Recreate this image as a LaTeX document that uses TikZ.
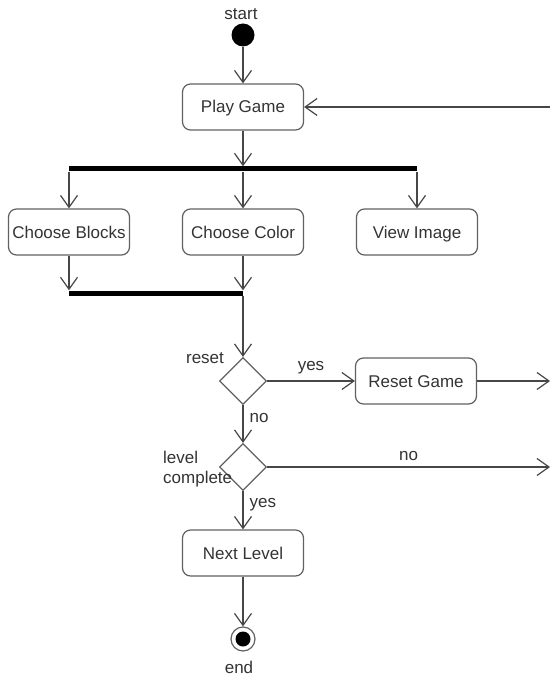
\documentclass[tikz,border=0pt]{standalone}
\usepackage{fontspec}
\setmainfont{Liberation Sans}
\usetikzlibrary{arrows.meta,shapes.geometric}

\tikzset{
	flow/.style={draw=black!72, line width=1.2pt, -{Straight Barb[length=12pt,width=17pt]}},
	action/.style={draw=black!62, line width=1.2pt, rounded corners=8pt, minimum width=121pt, minimum height=46pt, inner sep=0pt, text height=14pt, text depth=2pt},
	decision/.style={draw=black!62, line width=1.2pt, diamond, minimum width=47pt, minimum height=47pt, inner sep=0pt},
	bar/.style={fill=black, minimum height=5pt, inner sep=0pt},
	initial/.style={circle, fill=black, minimum size=23pt, inner sep=0pt},
	final/.style={circle, draw=black!62, line width=1.2pt, minimum size=24pt, inner sep=0pt,
		path picture={\fill[black] (path picture bounding box.center) circle (7.5pt);}},
	lbl/.style={inner sep=0pt, text=black!80}
}

\begin{document}
\begin{tikzpicture}[x=1pt, y=-1pt, font=\fontsize{17}{20}\selectfont, text=black!80]
			\useasboundingbox (0,0) rectangle (550,676);

			\node[lbl] (startlbl) at (241,14) {start};
			\node[initial] (start) at (243,35) {};

			\node[action] (play) at (243,107) {Play Game};
			\coordinate (playin) at (550,107);

			\node[bar, minimum width=348pt] (fork) at (243,169) {};

			\node[action] (blocks) at (69,232) {Choose Blocks};
			\node[action] (color) at (243,232) {Choose Color};
			\node[action] (image) at (417,232) {View Image};

			\node[bar, minimum width=174pt] (join) at (156,293) {};

			\node[decision] (reset) at (243,381) {};
			\node[lbl] (resetlbl) at (205,358) {reset};
			\node[action] (resetgame) at (416,381) {Reset Game};
			\coordinate (resetout) at (550,381);

			\node[decision] (level) at (243,467) {};
			\node[lbl, align=left, anchor=west] (levellbl) at (163,469) {level\\complete};
			\coordinate (levelout) at (550,467);

			\node[action] (next) at (243,553) {Next Level};

			\node[final] (end) at (243,639) {};
			\node[lbl] (endlbl) at (239,667) {end};

			\draw[flow] (start) -- (play);
			\draw[flow] (playin) -- (play);
			\draw[flow] (play) -- (play |- fork.north);

			\draw[flow] (blocks |- fork.south) -- (blocks);
			\draw[flow] (color |- fork.south) -- (color);
			\draw[flow] (image |- fork.south) -- (image);

			\draw[flow] (blocks) -- (blocks |- join.north);
			\draw[flow] (color) -- (color |- join.north);
			\draw[flow] (reset |- join.south) -- (reset);

			\draw[flow] (reset) -- node[lbl, above=6pt]{yes} (resetgame);
			\draw[flow] (resetgame) -- (resetout);
			\draw[flow] (reset) -- node[lbl, right=6pt, pos=0.35]{no} (level);

			\draw[flow] (level) -- node[lbl, above=6pt]{no} (levelout);
			\draw[flow] (level) -- node[lbl, right=6pt, pos=0.35]{yes} (next);

			\draw[flow] (next) -- (end);
		\end{tikzpicture}
\end{document}
